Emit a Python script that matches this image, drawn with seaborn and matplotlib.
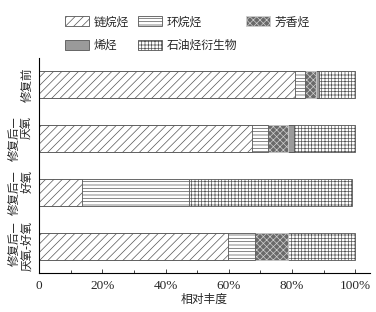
import matplotlib
matplotlib.use("Agg")
import pandas as pd
import matplotlib.pyplot as plt
import seaborn as sns
from matplotlib.patches import Patch
from matplotlib.ticker import MultipleLocator, FuncFormatter

# Data (percent)
categories = ["修复前", "修复后—\n厌氧", "修复后—\n好氧", "修复后—\n厌氧-好氧"]
series_names = ["链烷烃", "环烷烃", "芳香烃", "烯烃", "石油烃衍生物"]
alkanes = [81.1, 67.5, 13.5, 59.7]
cycloalkanes = [2.9, 4.8, 33.8, 8.7]
aromatics = [3.7, 6.5, 0.0, 10.5]
alkenes = [1.0, 1.8, 0.0, 0.0]
derivatives = [11.3, 19.4, 51.6, 21.1]

sns.set_theme(style="ticks")
plt.rcParams["font.family"] = ["Liberation Serif", "Noto Sans CJK SC", "DejaVu Sans"]
plt.rcParams["hatch.linewidth"] = 0.5

df = pd.DataFrame(dict(zip(series_names, [alkanes, cycloalkanes, aromatics, alkenes, derivatives])),
                  index=categories)
cum = df.cumsum(axis=1)

# face, hatch, edge
styles = {
    "链烷烃": ("white", "////", "#555555"),
    "环烷烃": ("white", "-----", "#555555"),
    "芳香烃": ("#6a6a6a", "xxxxx", "#cfcfcf"),
    "烯烃": ("#9a9a9a", "", "#555555"),
    "石油烃衍生物": ("white", "+++++", "#555555"),
}

fig = plt.figure(figsize=(3.76, 3.12), dpi=100)
ax = fig.add_axes([0.104, 0.125, 0.88, 0.689])

# stacked bars: draw cumulative totals from the last series backwards
for name in reversed(series_names):
    face, hatch, edge = styles[name]
    d = pd.DataFrame({"组": categories, "v": cum[name].values})
    n0 = len(ax.patches)
    sns.barplot(data=d, x="v", y="组", orient="h", width=0.5, ax=ax, color=face)
    for p in ax.patches[n0:]:
        p.set_facecolor(face)
        p.set_edgecolor(edge)
        p.set_hatch(hatch)
        p.set_linewidth(0.6)

ax.set_xlim(0, 104.7)
ax.set_ylim(3.5, -0.5)
ax.xaxis.set_major_locator(MultipleLocator(20))
ax.xaxis.set_minor_locator(MultipleLocator(10))
ax.xaxis.set_major_formatter(FuncFormatter(lambda v, _: "0" if v == 0 else f"{v:.0f}%"))
ax.tick_params(axis="x", which="major", direction="in", length=3, width=0.6, labelsize=9.5, pad=5)
ax.tick_params(axis="x", which="minor", direction="in", length=2, width=0.6)
ax.tick_params(axis="y", length=0, labelsize=8.3, pad=4)
for lab in ax.get_yticklabels():
    lab.set_rotation(90)
    lab.set_va("center")
    lab.set_ha("right")
    lab.set_multialignment("right")
    lab.set_family(["Noto Sans CJK SC", "DejaVu Sans"])
    lab.set_linespacing(1.0)
ax.set_xlabel("相对丰度", fontsize=8.5, family=["Noto Sans CJK SC"], labelpad=1)
ax.set_ylabel("")
for s in ["top", "right"]:
    ax.spines[s].set_visible(False)
for s in ["left", "bottom"]:
    ax.spines[s].set_linewidth(0.8)
    ax.spines[s].set_color("black")

order = ["链烷烃", "烯烃", "环烷烃", "石油烃衍生物", "芳香烃"]
handles = [Patch(facecolor=styles[n][0], hatch=styles[n][1], edgecolor=styles[n][2], linewidth=0.6)
           for n in order]
fig.legend(handles, order, loc="upper left", bbox_to_anchor=(0.145, 0.985), ncol=3,
           frameon=False, handlelength=2.0, handleheight=0.9, handletextpad=0.4,
           columnspacing=0.8, labelspacing=0.9, prop={"family": ["Noto Sans CJK SC"], "size": 8.5})

fig.savefig("out.png", dpi=100)
